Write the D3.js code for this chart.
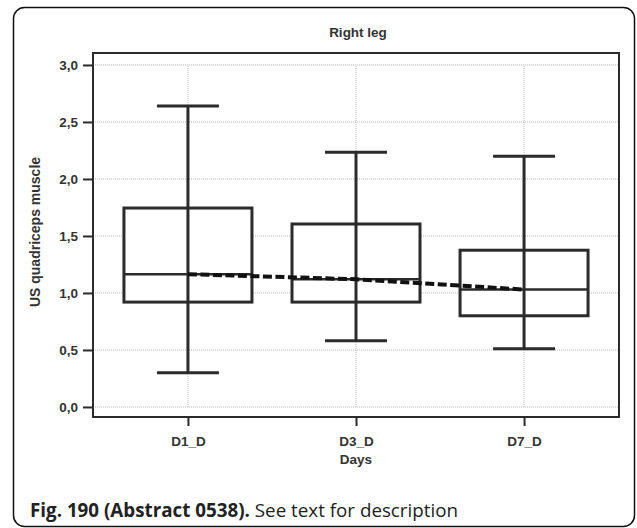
<!DOCTYPE html>
<html>
<head>
<meta charset="utf-8">
<script src="https://cdn.jsdelivr.net/npm/d3@7"></script>
<style>
  html, body { margin: 0; padding: 0; background: #fff; }
  svg { display: block; }
</style>
</head>
<body>
<svg id="chart" width="637" height="528"></svg>
<script>
// ---- data ----
const categories = ["D1_D", "D3_D", "D7_D"];
const whiskerLow = [0.30, 0.58, 0.51];
const q1Values = [0.92, 0.92, 0.80];
const medianValues = [1.165, 1.12, 1.03];
const q3Values = [1.745, 1.605, 1.375];
const whiskerHigh = [2.64, 2.235, 2.20];
const yTicks = [0.0, 0.5, 1.0, 1.5, 2.0, 2.5, 3.0];
const chartTitle = "Right leg";
const xTitle = "Days";
const yTitle = "US quadriceps muscle";
const captionBold = "Fig. 190 (Abstract 0538).";
const captionText = " See text for description";

const rows = categories.map((c, i) => ({
  cat: c, lo: whiskerLow[i], q1: q1Values[i], med: medianValues[i], q3: q3Values[i], hi: whiskerHigh[i]
}));

const svg = d3.select("#chart");
const frame = { left: 93, right: 619, top: 53, bottom: 417 };
const ink = "#2b2b2b";
const font = "'Liberation Sans', Arial, sans-serif";
const fs = 13.5;

// outer rounded border
svg.append("rect")
  .attr("x", 13.5).attr("y", 7.5).attr("width", 621).attr("height", 519)
  .attr("rx", 11).attr("ry", 11)
  .attr("fill", "#fff").attr("stroke", "#111").attr("stroke-width", 1.5);

const x = d3.scalePoint().domain(categories).range([frame.left, frame.right]).padding(0.565);
const y = d3.scaleLinear().domain([-0.088, 3.105]).range([frame.bottom, frame.top]);

// grid
const grid = svg.append("g");
grid.selectAll("line.h").data(yTicks).join("line")
  .attr("x1", frame.left).attr("x2", frame.right)
  .attr("y1", d => y(d)).attr("y2", d => y(d))
  .attr("stroke", "#b8b8b8").attr("stroke-width", 1).attr("stroke-dasharray", "1,1");
grid.selectAll("line.v").data(categories).join("line")
  .attr("x1", d => x(d)).attr("x2", d => x(d))
  .attr("y1", y(0)).attr("y2", y(3))
  .attr("stroke", "#b8b8b8").attr("stroke-width", 1).attr("stroke-dasharray", "1,1");

// axes
const yAxis = d3.axisLeft(y).tickValues(yTicks).tickSize(10).tickPadding(5)
  .tickFormat(d => d3.format(".1f")(d).replace(".", ","));
const gy = svg.append("g").attr("transform", `translate(${frame.left},0)`).call(yAxis);
gy.select(".domain").remove();
gy.selectAll(".tick line").attr("stroke", ink).attr("stroke-width", 2);
gy.selectAll(".tick text").attr("fill", "#333").attr("font-family", font)
  .attr("font-size", fs).attr("font-weight", "bold");

const xAxis = d3.axisBottom(x).tickSize(9).tickPadding(10);
const gx = svg.append("g").attr("transform", `translate(0,${frame.bottom})`).call(xAxis);
gx.select(".domain").remove();
gx.selectAll(".tick line").attr("stroke", ink).attr("stroke-width", 2);
gx.selectAll(".tick text").attr("fill", "#333").attr("font-family", font)
  .attr("font-size", fs).attr("font-weight", "bold");

// frame
svg.append("rect")
  .attr("x", frame.left).attr("y", frame.top)
  .attr("width", frame.right - frame.left).attr("height", frame.bottom - frame.top)
  .attr("fill", "none").attr("stroke", ink).attr("stroke-width", 2);

// boxes
const boxW = 128, capW = 62;
const boxes = svg.append("g");
boxes.selectAll("rect.box").data(rows).join("rect")
  .attr("x", d => x(d.cat) - boxW / 2).attr("width", boxW)
  .attr("y", d => y(d.q3)).attr("height", d => y(d.q1) - y(d.q3))
  .attr("fill", "#fff").attr("stroke", ink).attr("stroke-width", 3);
boxes.selectAll("line.stem").data(rows).join("line")
  .attr("x1", d => x(d.cat)).attr("x2", d => x(d.cat))
  .attr("y1", d => y(d.lo)).attr("y2", d => y(d.hi))
  .attr("stroke", ink).attr("stroke-width", 3);
boxes.selectAll("line.caphi").data(rows).join("line")
  .attr("x1", d => x(d.cat) - capW / 2).attr("x2", d => x(d.cat) + capW / 2)
  .attr("y1", d => y(d.hi)).attr("y2", d => y(d.hi))
  .attr("stroke", ink).attr("stroke-width", 3);
boxes.selectAll("line.caplo").data(rows).join("line")
  .attr("x1", d => x(d.cat) - capW / 2).attr("x2", d => x(d.cat) + capW / 2)
  .attr("y1", d => y(d.lo)).attr("y2", d => y(d.lo))
  .attr("stroke", ink).attr("stroke-width", 3);
boxes.selectAll("line.med").data(rows).join("line")
  .attr("x1", d => x(d.cat) - boxW / 2).attr("x2", d => x(d.cat) + boxW / 2)
  .attr("y1", d => y(d.med)).attr("y2", d => y(d.med))
  .attr("stroke", ink).attr("stroke-width", 2.5);

// dashed median trend
svg.append("path")
  .datum(rows)
  .attr("d", d3.line().x(d => x(d.cat)).y(d => y(d.med)))
  .attr("fill", "none").attr("stroke", "#111").attr("stroke-width", 4)
  .attr("stroke-dasharray", "9,3.5");

// titles
svg.append("text").attr("x", 358).attr("y", 37).attr("text-anchor", "middle")
  .attr("font-family", font).attr("font-size", fs).attr("font-weight", "bold").attr("fill", "#333")
  .text(chartTitle);
svg.append("text").attr("x", x(categories[1])).attr("y", 464).attr("text-anchor", "middle")
  .attr("font-family", font).attr("font-size", fs).attr("font-weight", "bold").attr("fill", "#333")
  .text(xTitle);
svg.append("text").attr("transform", "translate(40,232) rotate(-90)").attr("text-anchor", "middle")
  .attr("font-family", font).attr("font-size", 14).attr("font-weight", "bold").attr("fill", "#333")
  .text(yTitle);

// caption
const cap = svg.append("text").attr("x", 30).attr("y", 517)
  .attr("font-family", "'Open Sans', sans-serif").attr("font-size", 18.8).attr("fill", "#222");
cap.append("tspan").attr("font-weight", "bold").text(captionBold);
cap.append("tspan").text(captionText);
</script>
</body>
</html>
